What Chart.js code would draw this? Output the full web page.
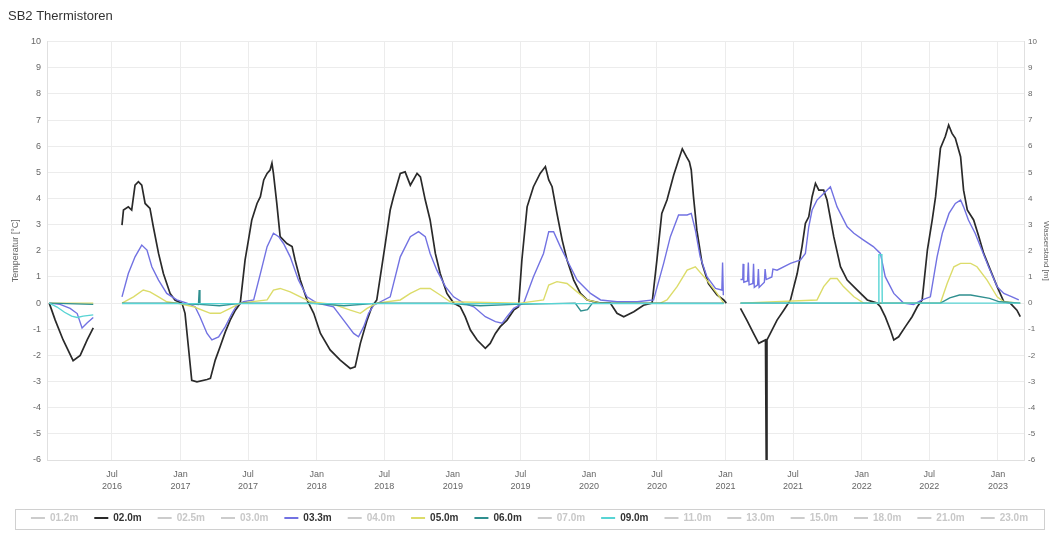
<!DOCTYPE html>
<html>
<head>
<meta charset="utf-8">
<script src="https://cdn.jsdelivr.net/npm/chart.js@4.4.1/dist/chart.umd.min.js"></script>
<style>
  html, body { margin: 0; padding: 0; background: #ffffff; }
  #wrap { width: 1051px; height: 533px; }
</style>
</head>
<body>
<div id="wrap"><canvas id="chart" width="1051" height="533"></canvas></div>
<script>
// Sensor depths listed in the legend; only some of them carry data.
const depths = ['01.2m','02.0m','02.5m','03.0m','03.3m','04.0m','05.0m','06.0m','07.0m','09.0m','11.0m','13.0m','15.0m','18.0m','21.0m','23.0m'];

// Tick positions on the time axis
const xTickDates = ['2016-07-01','2017-01-01','2017-07-01','2018-01-01','2018-07-01','2019-01-01','2019-07-01',
                    '2020-01-01','2020-07-01','2021-01-01','2021-07-01','2022-01-01','2022-07-01','2023-01-01'];
const monthNames = ['Jan','Feb','Mär','Apr','Mai','Jun','Jul','Aug','Sep','Okt','Nov','Dez'];
const xRange = ['2016-01-09', '2023-03-12'];
const yRange = [-6, 10];

// Temperature series [date, °C]; null marks a gap in the record
const t02 = [
  ['2016-01-15',0.0],['2016-01-31',-0.65],['2016-02-21',-1.4],['2016-03-19',-2.2],['2016-04-07',-2.0],['2016-04-26',-1.4],['2016-05-12',-0.95],['2016-06-20',null],
  ['2016-07-28',2.98],['2016-08-01',3.56],['2016-08-14',3.68],['2016-08-23',3.56],['2016-09-01',4.51],['2016-09-10',4.64],['2016-09-19',4.51],['2016-09-28',3.81],
  ['2016-10-11',3.62],['2016-10-20',2.92],['2016-11-03',1.90],['2016-11-16',1.13],['2016-12-04',0.37],['2016-12-17',0.12],
  ['2017-01-05',-0.01],['2017-01-13',-0.39],['2017-01-22',-1.67],['2017-01-31',-2.95],['2017-02-14',-3.01],['2017-03-13',-2.92],['2017-03-22',-2.88],['2017-04-04',-2.18],
  ['2017-04-17',-1.67],['2017-05-01',-1.10],['2017-05-14',-0.65],['2017-05-28',-0.27],['2017-06-10',-0.01],['2017-06-23',1.65],['2017-07-02',2.41],['2017-07-11',3.18],
  ['2017-07-25',3.81],['2017-08-03',4.07],['2017-08-12',4.71],['2017-08-21',4.96],['2017-08-29',5.09],['2017-09-03',5.35],['2017-09-07',4.96],['2017-09-16',3.81],
  ['2017-09-25',2.54],['2017-10-13',2.28],['2017-10-27',2.16],['2017-11-04',1.65],['2017-11-18',0.88],['2017-12-06',0.12],['2017-12-24',-0.39],
  ['2018-01-11',-1.16],['2018-02-06',-1.79],['2018-03-05',-2.18],['2018-04-01',-2.50],['2018-04-14',-2.44],['2018-04-28',-1.54],['2018-05-16',-0.65],['2018-05-29',-0.14],
  ['2018-06-11',0.12],['2018-07-04',2.28],['2018-07-17',3.56],['2018-07-26',4.07],['2018-08-13',4.96],['2018-08-26',5.02],['2018-09-09',4.51],['2018-09-27',4.96],
  ['2018-10-06',4.83],['2018-10-19',3.94],['2018-11-01',3.18],['2018-11-15',1.90],['2018-11-28',1.13],['2018-12-16',0.37],
  ['2019-01-03',0.0],['2019-01-21',-0.14],['2019-02-03',-0.52],['2019-02-17',-1.03],['2019-03-07',-1.41],['2019-03-29',-1.73],['2019-04-11',-1.54],['2019-04-25',-1.16],
  ['2019-05-08',-0.90],['2019-05-26',-0.65],['2019-06-13',-0.27],['2019-06-26',-0.14],['2019-07-05',1.65],['2019-07-19',3.68],['2019-08-05',4.45],['2019-08-23',4.96],
  ['2019-09-06',5.22],['2019-09-15',4.71],['2019-09-24',4.45],['2019-10-07',3.43],['2019-10-21',2.41],['2019-11-03',1.65],['2019-11-21',0.88],['2019-12-09',0.37],['2019-12-27',0.12],
  ['2020-02-01',0.0],['2020-02-27',0.0],['2020-03-16',-0.39],['2020-04-03',-0.52],['2020-04-30',-0.33],['2020-05-26',-0.08],['2020-06-18',0.0],['2020-07-01',1.65],
  ['2020-07-14',3.43],['2020-07-28',3.94],['2020-08-15',4.9],['2020-08-28',5.47],['2020-09-07',5.9],['2020-09-18',5.6],['2020-09-26',5.4],['2020-10-01',5.09],
  ['2020-10-07',4.07],['2020-10-16',2.79],['2020-10-30',1.52],['2020-11-16',0.75],['2020-12-09',0.31],['2020-12-27',0.12],['2021-01-03',0.0],['2021-01-20',null],
  ['2021-02-10',-0.2],['2021-02-27',-0.65],['2021-03-17',-1.16],['2021-03-31',-1.54],['2021-04-18',-1.41],['2021-04-20',-6.0],['2021-04-22',-1.41],['2021-05-01',-1.16],
  ['2021-05-19',-0.65],['2021-06-06',-0.27],['2021-06-24',0.12],['2021-07-12',1.13],['2021-07-25',2.16],['2021-08-03',3.05],['2021-08-12',3.30],['2021-08-21',4.07],
  ['2021-08-30',4.58],['2021-09-08',4.32],['2021-09-21',4.32],['2021-09-30',3.94],['2021-10-18',2.54],['2021-11-05',1.39],['2021-11-23',0.88],['2021-12-20',0.50],
  ['2022-01-16',0.12],['2022-02-11',0.0],['2022-02-20',-0.14],['2022-03-05',-0.52],['2022-03-19',-1.03],['2022-03-28',-1.41],['2022-04-10',-1.29],['2022-04-28',-0.90],
  ['2022-05-16',-0.52],['2022-05-30',-0.14],['2022-06-12',0.12],['2022-06-26',2.03],['2022-07-09',3.18],['2022-07-18',4.07],['2022-07-31',5.92],['2022-08-13',6.37],
  ['2022-08-22',6.81],['2022-08-31',6.49],['2022-09-09',6.30],['2022-09-23',5.60],['2022-10-01',4.32],['2022-10-11',3.56],['2022-10-28',3.18],['2022-11-11',2.54],
  ['2022-11-24',1.90],['2022-12-12',1.26],['2022-12-30',0.63],['2023-01-17',0.05],['2023-02-03',0.0],['2023-02-21',-0.27],['2023-03-02',-0.52]
];

const t033 = [
  ['2016-01-15',0.0],['2016-02-13',-0.05],['2016-03-11',-0.2],['2016-03-30',-0.4],['2016-04-12',-0.95],['2016-04-26',-0.75],['2016-05-12',-0.55],['2016-06-20',null],
  ['2016-07-28',0.24],['2016-08-14',1.13],['2016-09-01',1.77],['2016-09-19',2.22],['2016-10-03',2.03],['2016-10-16',1.39],['2016-11-03',0.88],['2016-11-25',0.37],
  ['2016-12-22',0.12],['2017-01-18',0.0],['2017-02-09',-0.14],['2017-02-22',-0.52],['2017-03-13',-1.16],['2017-03-26',-1.41],['2017-04-13',-1.29],['2017-05-01',-0.90],
  ['2017-05-19',-0.39],['2017-06-01',-0.08],['2017-06-19',0.05],['2017-07-16',0.12],['2017-08-03',1.13],['2017-08-21',2.16],['2017-09-07',2.67],['2017-09-21',2.54],
  ['2017-10-04',2.28],['2017-10-22',1.77],['2017-11-13',0.88],['2017-12-06',0.24],['2018-01-02',0.0],['2018-02-15',-0.14],['2018-03-14',-0.65],['2018-04-10',-1.16],
  ['2018-04-23',-1.29],['2018-05-07',-0.90],['2018-05-20',-0.39],['2018-06-03',-0.08],['2018-07-17',0.24],['2018-08-13',1.77],['2018-09-09',2.54],['2018-10-01',2.73],
  ['2018-10-19',2.54],['2018-11-01',1.90],['2018-11-19',1.26],['2018-12-12',0.63],['2019-01-03',0.24],['2019-01-30',0.0],['2019-02-26',-0.14],['2019-03-29',-0.52],
  ['2019-04-25',-0.71],['2019-05-13',-0.77],['2019-05-26',-0.52],['2019-06-13',-0.2],['2019-07-10',0.0],['2019-08-05',1.01],['2019-09-01',1.90],['2019-09-15',2.73],
  ['2019-09-28',2.73],['2019-10-16',2.16],['2019-11-03',1.65],['2019-11-30',0.88],['2020-01-05',0.37],['2020-02-01',0.12],['2020-03-16',0.05],['2020-05-09',0.05],
  ['2020-06-22',0.12],['2020-07-19',1.52],['2020-08-06',2.54],['2020-08-28',3.37],['2020-09-20',3.37],['2020-10-01',3.43],['2020-10-12',2.79],['2020-10-25',1.77],
  ['2020-11-12',1.01],['2020-12-05',0.56],['2020-12-22',0.5],['2020-12-24',1.55],['2020-12-26',0.3],['2021-01-20',null],
  ['2021-02-10',0.9],['2021-02-16',0.9],['2021-02-17',1.5],['2021-02-19',0.8],['2021-03-01',0.85],['2021-03-03',1.55],['2021-03-05',0.7],['2021-03-15',0.75],
  ['2021-03-17',1.5],['2021-03-19',0.6],['2021-03-28',0.7],['2021-03-30',1.3],['2021-04-01',0.6],['2021-04-15',0.8],['2021-04-17',1.3],['2021-04-20',0.9],
  ['2021-05-05',1.0],['2021-05-08',1.3],['2021-05-19',1.26],['2021-06-24',1.52],['2021-07-21',1.65],['2021-08-03',1.9],['2021-08-12',2.92],['2021-08-21',3.56],
  ['2021-09-03',3.94],['2021-09-21',4.19],['2021-10-09',4.45],['2021-10-27',3.68],['2021-11-23',2.92],['2021-12-11',2.67],['2022-01-06',2.41],['2022-02-01',2.16],
  ['2022-02-20',1.90],['2022-03-05',1.01],['2022-03-28',0.37],['2022-04-23',0.0],['2022-05-20',-0.05],['2022-06-12',0.12],['2022-07-04',0.24],['2022-07-22',1.77],
  ['2022-08-05',2.67],['2022-08-23',3.43],['2022-09-09',3.81],['2022-09-23',3.94],['2022-10-01',3.68],['2022-10-14',3.18],['2022-11-01',2.67],['2022-11-19',2.03],
  ['2022-12-07',1.39],['2022-12-30',0.63],['2023-01-17',0.37],['2023-02-08',0.24],['2023-02-26',0.12]
];

const t05 = [
  ['2016-01-15',0.0],['2016-05-12',0.0],['2016-06-20',null],
  ['2016-07-28',0.0],['2016-08-28',0.24],['2016-09-23',0.5],['2016-10-11',0.43],['2016-11-03',0.24],['2016-11-25',0.05],['2016-12-22',0.0],['2017-02-05',-0.14],
  ['2017-03-22',-0.39],['2017-04-17',-0.39],['2017-05-14',-0.2],['2017-06-10',0.0],['2017-08-21',0.12],['2017-09-07',0.5],['2017-09-25',0.56],['2017-10-22',0.43],
  ['2017-11-18',0.24],['2017-12-15',0.05],['2018-02-15',-0.05],['2018-04-01',-0.27],['2018-04-28',-0.39],['2018-05-16',-0.2],['2018-06-11',0.0],['2018-08-13',0.12],
  ['2018-09-09',0.37],['2018-10-06',0.56],['2018-11-01',0.56],['2018-11-28',0.31],['2018-12-25',0.05],['2019-07-01',0.0],['2019-09-01',0.12],['2019-09-15',0.69],
  ['2019-10-07',0.82],['2019-11-03',0.75],['2019-11-30',0.43],['2019-12-27',0.12],['2020-02-01',0.0],['2020-07-10',0.0],['2020-07-28',0.12],['2020-08-24',0.63],
  ['2020-09-20',1.26],['2020-10-12',1.39],['2020-11-12',0.88],['2020-12-09',0.37],['2020-12-27',0.0],['2021-01-20',null],
  ['2021-02-10',0.0],['2021-09-03',0.12],['2021-09-21',0.63],['2021-10-09',0.94],['2021-10-27',0.94],['2021-11-13',0.63],['2021-12-11',0.24],['2022-01-06',0.0],
  ['2022-07-31',0.0],['2022-08-18',0.75],['2022-09-05',1.39],['2022-09-23',1.52],['2022-10-20',1.52],['2022-11-06',1.39],['2022-12-03',0.88],['2022-12-30',0.24],
  ['2023-01-17',0.05],['2023-03-02',0.0]
];

const t06 = [
  ['2016-01-15',0.0],['2016-05-12',-0.05],['2016-06-20',null],
  ['2016-07-28',0.0],['2016-12-20',0.0],['2017-02-18',-0.05],['2017-02-20',0.5],['2017-02-22',-0.05],['2017-04-15',-0.1],['2017-06-15',0.0],['2017-12-15',0.0],
  ['2018-03-15',-0.1],['2018-06-15',0.0],['2018-12-15',0.0],['2019-03-15',-0.1],['2019-06-15',-0.05],['2019-11-25',0.0],['2019-12-10',-0.3],['2019-12-28',-0.25],
  ['2020-01-10',0.0],['2020-12-27',0.0],['2021-01-20',null],
  ['2021-02-10',0.0],['2022-07-31',0.0],['2022-08-25',0.2],['2022-09-20',0.31],['2022-10-20',0.31],['2022-12-10',0.18],['2023-01-05',0.05],['2023-03-02',0.0]
];

const t09 = [
  ['2016-01-15',0.0],['2016-02-05',-0.15],['2016-02-25',-0.35],['2016-03-15',-0.5],['2016-03-30',-0.55],['2016-04-15',-0.5],['2016-05-12',-0.45],['2016-06-20',null],
  ['2016-07-28',-0.02],['2020-12-27',-0.02],['2021-01-20',null],
  ['2021-02-10',0.0],['2022-02-15',0.0],['2022-02-16',1.85],['2022-02-24',1.85],['2022-02-25',0.0],['2023-03-02',0.0]
];

// Which depths carry a record, with their line colours
const seriesByDepth = {
  '02.0m': { rows: t02,  color: '#2a2a2a', width: 1.7, order: 4 },
  '03.3m': { rows: t033, color: '#7272e2', width: 1.4, order: 3 },
  '05.0m': { rows: t05,  color: '#dcdc6a', width: 1.4, order: 2 },
  '06.0m': { rows: t06,  color: '#2f8f8f', width: 1.4, order: 1 },
  '09.0m': { rows: t09,  color: '#58d4d4', width: 1.4, order: 0 }
};

const FONT = "'Liberation Sans', Arial, sans-serif";
const ts = d => Date.parse(d);

const datasets = depths.map(label => {
  const s = seriesByDepth[label];
  return {
    label,
    data: s ? s.rows.map(([d, v]) => ({ x: ts(d), y: v })) : [],
    borderColor: s ? s.color : '#cccccc',
    backgroundColor: s ? s.color : '#cccccc',
    borderWidth: s ? s.width : 1,
    order: s ? s.order : 9,
    active: !!s,
    spanGaps: false,
    yAxisID: 'y'
  };
});

// Thin frame around the legend row
const legendFrame = {
  id: 'legendFrame',
  afterDraw(chart) {
    const lg = chart.legend;
    if (!lg) return;
    const ctx = chart.ctx;
    ctx.save();
    ctx.strokeStyle = '#d0d0d0';
    ctx.lineWidth = 1;
    ctx.strokeRect(Math.round(lg.left + 7) + 0.5, Math.round(lg.top + 12) + 0.5, Math.round(lg.width - 14), 20);
    ctx.restore();
  }
};

new Chart(document.getElementById('chart'), {
  type: 'line',
  data: { datasets },
  plugins: [legendFrame],
  options: {
    responsive: false,
    animation: false,
    devicePixelRatio: 1,
    layout: { padding: { left: 8, right: 0, top: 0, bottom: 0 } },
    elements: { point: { radius: 0 }, line: { tension: 0 } },
    plugins: {
      tooltip: { enabled: false },
      title: {
        display: true, text: 'SB2 Thermistoren', align: 'start', color: '#333333',
        font: { family: FONT, size: 13, weight: 'normal' }, padding: { top: 9, bottom: 17 }
      },
      legend: {
        position: 'bottom',
        onClick: null,
        labels: {
          usePointStyle: true, pointStyleWidth: 14, boxHeight: 10, padding: 16,
          font: { family: FONT, size: 10, weight: 'bold' },
          generateLabels(chart) {
            return chart.data.datasets.map((ds, i) => ({
              text: ds.label,
              fillStyle: ds.borderColor,
              strokeStyle: ds.active ? ds.borderColor : '#cccccc',
              lineWidth: 2,
              pointStyle: 'line',
              hidden: false,
              fontColor: ds.active ? '#333333' : '#c8c8c8',
              datasetIndex: i
            }));
          }
        }
      }
    },
    scales: {
      x: {
        type: 'linear',
        min: ts(xRange[0]), max: ts(xRange[1]),
        afterBuildTicks(scale) { scale.ticks = xTickDates.map(d => ({ value: ts(d) })); },
        afterFit(scale) { scale.height = 37; },
        ticks: {
          autoSkip: false, maxRotation: 0, color: '#666666', padding: 8,
          font: { family: FONT, size: 9, lineHeight: 1.4 },
          callback(value) {
            const d = new Date(value);
            return [monthNames[d.getUTCMonth()], String(d.getUTCFullYear())];
          }
        },
        grid: { color: '#ececec', drawTicks: false },
        border: { color: '#e0e0e0' }
      },
      y: {
        position: 'left',
        min: yRange[0], max: yRange[1],
        afterFit(scale) { scale.width = 39; },
        ticks: { stepSize: 1, color: '#666666', font: { family: FONT, size: 9 }, padding: 6 },
        title: { display: true, text: 'Temperatur [°C]', color: '#666666', font: { family: FONT, size: 9 }, padding: 2 },
        grid: { color: '#ececec', drawTicks: false },
        border: { color: '#e0e0e0' }
      },
      y2: {
        position: 'right',
        min: yRange[0], max: yRange[1],
        afterFit(scale) { scale.width = 27; },
        ticks: { stepSize: 1, color: '#666666', font: { family: FONT, size: 8 }, padding: 4 },
        title: { display: true, text: 'Wasserstand [m]', color: '#666666', font: { family: FONT, size: 8 }, padding: 0 },
        grid: { display: false, drawTicks: false },
        border: { color: '#e0e0e0' }
      }
    }
  }
});
</script>
</body>
</html>
